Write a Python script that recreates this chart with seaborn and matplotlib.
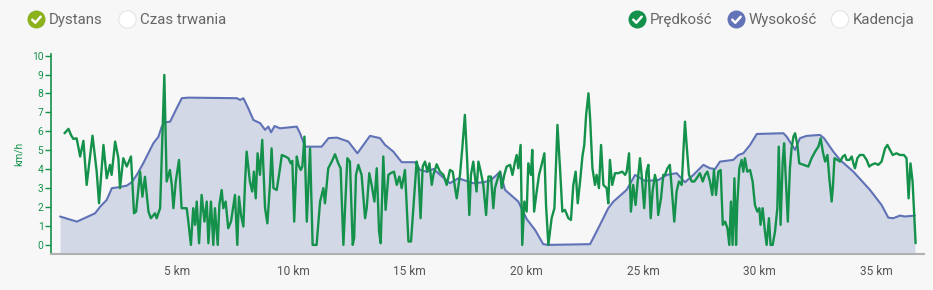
import matplotlib
matplotlib.use("Agg")
import matplotlib.pyplot as plt
from matplotlib.patches import Circle
import seaborn as sns

# ---------------- data ----------------
speed_km = [0.19, 0.36, 0.47, 0.57, 0.71, 0.86, 1.0, 1.14, 1.39, 1.57, 1.67, 1.86, 2.0, 2.14, 2.21, 2.36, 2.5, 2.57,
            2.71, 2.86, 3.04, 3.17, 3.26, 3.43, 3.53, 3.64, 3.79, 3.89, 4.07, 4.14, 4.29, 4.36, 4.47, 4.57, 4.71, 4.79,
            4.86, 4.96, 5.1, 5.21, 5.43, 5.5, 5.61, 5.71, 5.79, 5.86, 5.96, 6.07, 6.19, 6.29, 6.36, 6.47, 6.57, 6.64,
            6.76, 6.83, 6.93, 7.0, 7.1, 7.21, 7.33, 7.5, 7.6, 7.67, 7.76, 7.86, 7.93, 8.0, 8.14, 8.24, 8.31, 8.39,
            8.47, 8.57, 8.67, 8.79, 8.89, 9.0, 9.07, 9.15, 9.29, 9.41, 9.51, 9.66, 9.79, 9.89, 9.96, 10.04, 10.15,
            10.22, 10.32, 10.39, 10.48, 10.58, 10.72, 10.83, 11.0, 11.15, 11.29, 11.36, 11.5, 11.65, 11.79, 11.93,
            12.03, 12.15, 12.32, 12.43, 12.55, 12.61, 12.69, 12.79, 12.93, 13.08, 13.15, 13.26, 13.36, 13.48, 13.58,
            13.68, 13.75, 13.86, 13.96, 14.08, 14.18, 14.32, 14.44, 14.55, 14.65, 14.79, 14.94, 15.05, 15.15, 15.29,
            15.36, 15.46, 15.55, 15.65, 15.75, 15.84, 15.94, 16.01, 16.15, 16.29, 16.44, 16.58, 16.72, 16.84, 16.93,
            17.01, 17.15, 17.26, 17.36, 17.46, 17.55, 17.62, 17.72, 17.86, 17.94, 18.04, 18.15, 18.27, 18.37, 18.48,
            18.58, 18.65, 18.77, 18.87, 18.94, 19.05, 19.15, 19.3, 19.4, 19.51, 19.58, 19.65, 19.75, 19.82, 19.91,
            20.01, 20.08, 20.19, 20.25, 20.33, 20.44, 20.54, 20.65, 20.77, 20.84, 20.94, 21.08, 21.2, 21.33, 21.44,
            21.54, 21.65, 21.8, 21.91, 22.01, 22.11, 22.2, 22.3, 22.4, 22.48, 22.56, 22.66, 22.73, 22.83, 22.94,
            23.01, 23.11, 23.2, 23.3, 23.44, 23.51, 23.58, 23.68, 23.8, 23.94, 24.11, 24.23, 24.3, 24.4, 24.48,
            24.58, 24.68, 24.77, 24.87, 24.94, 25.05, 25.15, 25.23, 25.33, 25.41, 25.51, 25.58, 25.65, 25.77, 25.87,
            25.94, 26.05, 26.15, 26.23, 26.34, 26.44, 26.54, 26.66, 26.73, 26.8, 26.87, 26.97, 27.09, 27.2, 27.3,
            27.44, 27.56, 27.66, 27.76, 27.87, 27.97, 28.04, 28.13, 28.23, 28.33, 28.42, 28.52, 28.62, 28.7, 28.77,
            28.84, 28.92, 28.99, 29.04, 29.13, 29.23, 29.3, 29.37, 29.47, 29.59, 29.7, 29.8, 29.9, 29.99, 30.04,
            30.13, 30.23, 30.3, 30.4, 30.47, 30.56, 30.66, 30.76, 30.82, 30.9, 30.99, 31.05, 31.13, 31.21, 31.3,
            31.37, 31.45, 31.52, 31.62, 31.7, 31.88, 32.09, 32.23, 32.38, 32.52, 32.62, 32.71, 32.81, 32.91, 32.99,
            33.09, 33.14, 33.21, 33.34, 33.45, 33.57, 33.66, 33.73, 33.85, 33.95, 34.02, 34.09, 34.19, 34.3, 34.45,
            34.59, 34.7, 34.8, 34.95, 35.09, 35.23, 35.38, 35.48, 35.59, 35.71, 35.87, 36.02, 36.19, 36.3, 36.39,
            36.47, 36.56, 36.63, 36.69]
speed_kmh = [5.9, 6.13, 5.8, 5.6, 5.63, 4.67, 5.5, 3.17, 5.77, 3.87, 2.2, 5.28, 3.52, 4.23, 3.7, 5.46, 4.58, 3.0,
             4.58, 4.14, 4.67, 1.67, 1.76, 3.87, 2.55, 3.6, 1.76, 1.41, 1.67, 1.41, 1.94, 4.75, 8.98, 3.35, 3.96, 3.17,
             1.94, 3.35, 4.49, 1.94, 1.94, 1.23, 0.0, 1.94, 1.06, 2.29, 0.09, 2.64, 1.23, 2.29, 0.09, 2.29, 0.0, 1.94,
             0.0, 2.11, 2.9, 1.94, 2.29, 0.88, 1.23, 2.64, 0.0, 2.55, 1.58, 0.97, 3.26, 4.93, 3.35, 2.82, 3.87, 2.46,
             4.84, 3.7, 5.55, 1.94, 1.14, 3.17, 5.1, 3.0, 2.9, 3.87, 4.75, 4.67, 4.58, 4.31, 4.44, 1.23, 4.67,
             4.23, 3.96, 4.14, 5.72, 1.23, 5.1, 0.0, 0.0, 2.29, 3.0, 2.2, 4.05, 4.4, 4.79, 4.31,
             4.05, 0.0, 4.58, 4.4, 0.0, 0.35, 3.7, 4.23, 3.7, 1.41, 1.94, 3.79, 3.17, 2.29, 4.05,
             0.7, 0.09, 4.67, 1.85, 3.7, 3.79, 3.87, 3.17, 3.61, 3.0, 3.96, 0.18, 0.18, 1.94, 4.4,
             4.05, 1.41, 4.14, 4.4, 3.87, 4.31, 3.17, 3.7, 4.26, 3.87, 3.7, 3.17, 3.96, 3.87, 3.08,
             2.46, 3.7, 5.28, 6.87, 4.4, 1.58, 3.7, 4.4, 2.82, 4.4, 3.87, 3.17, 1.58, 3.61, 3.61,
             1.94, 3.0, 3.52, 3.87, 3.0, 3.7, 4.14, 4.23, 3.7, 4.4, 4.75, 4.05, 5.28, 0.0, 2.29,
             1.76, 4.31, 3.7, 5.02, 1.76, 2.82, 3.7, 4.23, 4.84, 2.11, 0.0, 1.41, 1.94, 6.34, 4.05,
             1.76, 1.85, 1.41, 1.32, 3.17, 3.87, 2.2, 3.35, 4.67, 5.28, 6.87, 8.01, 6.69, 4.05, 3.17,
             3.7, 3.0, 5.28, 3.17, 3.0, 2.2, 4.49, 3.17, 3.79, 3.79, 3.87, 3.7, 3.87, 4.84, 1.76,
             3.17, 2.11, 3.35, 4.58, 3.7, 1.94, 3.87, 4.23, 1.41, 2.82, 3.7, 3.35, 1.58, 2.46, 3.7,
             3.7, 4.05, 4.23, 3.0, 1.23, 2.82, 3.35, 3.17, 4.93, 6.51, 5.28, 3.7, 3.35, 3.35, 3.52,
             3.79, 3.35, 3.7, 3.87, 3.35, 2.64, 3.96, 2.64, 3.87, 3.96, 1.06, 1.23, 0.88, 0.0, 2.29,
             0.0, 3.52, 0.0, 2.11, 4.05, 4.49, 3.87, 4.58, 3.87, 3.96, 3.35, 2.11, 1.76, 1.94, 1.06,
             1.94, 0.7, 0.0, 1.41, 0.0, 0.0, 0.7, 1.94, 5.19, 1.06, 4.4, 5.37, 3.35, 1.23, 4.05,
             5.1, 5.72, 5.9, 5.28, 4.31, 4.23, 4.14, 4.58, 4.93, 5.19, 5.63, 4.93, 4.4, 4.75, 3.52,
             2.29, 3.0, 4.58, 4.49, 4.4, 4.67, 4.75, 4.49, 4.49, 4.67, 4.31, 4.05, 4.58, 4.75, 4.75,
             4.49, 4.14, 4.23, 4.31, 4.23, 4.4, 5.1, 5.28, 5.02, 4.75, 4.84, 4.75, 4.75, 4.58, 2.46,
             4.31, 3.35, 1.58, 0.09]

# elevation profile (hidden secondary axis, relative units)
elev_km = [0.0, 0.72, 1.5, 1.72, 2.0, 2.22, 2.43, 2.86, 3.07, 3.29, 3.57, 4.0, 4.22, 4.36, 4.5, 4.72, 5.0, 5.22,
           5.5, 7.58, 7.72, 7.86, 8.07, 8.29, 8.58, 8.79, 8.93, 9.05, 9.2, 9.43, 10.15, 10.29, 10.51, 11.22, 11.51,
           11.87, 12.36, 12.75, 13.01, 13.29, 13.72, 13.94, 14.29, 14.65, 15.22, 15.44, 15.72, 16.01, 16.3, 16.72,
           17.08, 17.72, 18.15, 18.44, 18.65, 18.87, 19.08, 19.65, 20.01, 20.37, 20.72, 20.94, 22.73, 23.08, 23.51,
           23.73, 24.3, 24.66, 25.08, 25.66, 26.02, 26.44, 26.8, 27.16, 27.59, 27.87, 28.09, 28.3, 28.87, 29.09,
           29.3, 29.59, 29.88, 31.02, 31.16, 31.52, 31.73, 32.02, 32.59, 32.76, 33.16, 33.45, 34.02, 34.73, 35.23,
           35.52, 35.73, 36.02, 36.23, 36.66]
elevation = [1.5, 1.23, 1.67, 2.02, 2.38, 3.0, 3.03, 3.13, 3.31, 3.7, 4.32, 5.37, 5.72, 6.25, 6.48, 6.51, 7.22, 7.75,
             7.78, 7.75, 7.66, 7.75, 7.22, 6.6, 6.43, 6.08, 6.25, 5.95, 6.28, 6.16, 6.25, 5.9, 5.19, 5.19, 5.64,
             5.67, 5.46, 4.84, 5.28, 5.76, 5.64, 5.28, 4.93, 4.37, 4.37, 3.96, 3.87, 4.01, 3.7, 3.26,
             3.52, 3.26, 3.31, 3.4, 3.61, 3.87, 2.91, 2.29, 1.37, 0.79, 0.04, 0.0, 0.04, 0.88, 1.94,
             2.29, 2.91, 3.7, 3.38, 3.43, 3.7, 3.79, 3.31, 3.7, 4.23, 4.05, 4.01, 4.4, 4.49, 4.75,
             4.84, 5.28, 5.86, 5.9, 5.72, 5.02, 5.64, 5.76, 5.81, 5.64, 4.93, 4.49, 3.87, 2.91, 2.11,
             1.44, 1.41, 1.55, 1.5, 1.55]

y_ticks = list(range(0, 11))
x_ticks = [5, 10, 15, 20, 25, 30, 35]
x_tick_labels = ["5 km", "10 km", "15 km", "20 km", "25 km", "30 km", "35 km"]
toggles_left = ["Dystans", "Czas trwania"]
toggles_right = ["Prędkość", "Wysokość", "Kadencja"]

# ---------------- style ----------------
BG = "#f7f7f7"
GREEN = "#14914a"
BLUE = "#5f72b6"
FILL = "#d3d8e7"
TEXT = "#666666"

sns.set_theme(style="white")
plt.rcParams["font.family"] = ["Roboto", "DejaVu Sans"]

W, H = 933, 290
fig = plt.figure(figsize=(W / 100, H / 100), dpi=100, facecolor=BG)

left_px, right_px, bottom_px = 51, 924, 254
ymin, ymax = -0.48, 10.1
px_per_unit = 18.93
top_px = bottom_px - (ymax - ymin) * px_per_unit
ax = fig.add_axes([left_px / W, (H - bottom_px) / H, (right_px - left_px) / W, (bottom_px - top_px) / H])
ax_el = ax.twinx()
ax.set_zorder(ax_el.get_zorder() + 1)
ax.patch.set_visible(False)
ax_el.set_facecolor(BG)

# elevation
ax_el.fill_between(elev_km, elevation, ymin, color=FILL, lw=0, zorder=1)
sns.lineplot(x=elev_km, y=elevation, ax=ax_el, color=BLUE, linewidth=1.5, zorder=2,
             solid_joinstyle="round")
ax_el.set_ylim(ymin, ymax)
ax_el.set_yticks([])
ax_el.set_ylabel("")
for s in ax_el.spines.values():
    s.set_visible(False)

# speed
sns.lineplot(x=speed_km, y=speed_kmh, ax=ax, color=GREEN, linewidth=1.7, zorder=3,
             solid_joinstyle="round", solid_capstyle="round")

xmin, xmax = -0.39, 37.05
ax.set_xlim(xmin, xmax)
ax_el.set_xlim(xmin, xmax)
ax.set_ylim(ymin, ymax)

ax.set_yticks(y_ticks)
ax.set_yticklabels([str(v) for v in y_ticks])
ax.tick_params(axis="y", colors=GREEN, labelcolor=GREEN, length=4, width=1, pad=1.5,
               labelsize=7.4, left=True, direction="out")
ax.set_xticks(x_ticks)
ax.set_xticklabels(x_tick_labels)
ax.tick_params(axis="x", length=0, pad=8, labelsize=8.6, labelcolor="#555555")
ax.set_xlabel("")
ax.set_ylabel("km/h", color=GREEN, fontsize=7.4, labelpad=6)
ax.grid(False)

for name, s in ax.spines.items():
    s.set_visible(False)
ax.spines["left"].set_visible(True)
ax.spines["left"].set_color(GREEN)
ax.spines["left"].set_linewidth(1.2)
ax.spines["bottom"].set_visible(True)
ax.spines["bottom"].set_color("#b0b0b0")
ax.spines["bottom"].set_linewidth(1.5)

# ---------------- top toggles (overlay in pixel coordinates) ----------------
ov = fig.add_axes([0, 0, 1, 1], facecolor="none")
ov.set_xlim(0, W)
ov.set_ylim(H, 0)
ov.axis("off")

def toggle(cx, cy, label, color, checked):
    if checked:
        ov.add_patch(Circle((cx, cy), 9, facecolor=color, edgecolor="none"))
        ov.plot([cx - 4.2, cx - 1.2, cx + 4.2], [cy + 0.2, cy + 3.2, cy - 2.8],
                color="white", lw=1.8, solid_capstyle="round", solid_joinstyle="round")
    else:
        ov.add_patch(Circle((cx, cy), 8.7, facecolor="white", edgecolor="#e4e4e4", lw=0.8))
    ov.text(cx + 12.5, cy + 0.5, label, fontsize=10.8, color=TEXT, va="center", ha="left")

toggle(36.5, 19.5, toggles_left[0], "#8bb11d", True)
toggle(127.5, 19.5, toggles_left[1], None, False)
toggle(637.5, 19.5, toggles_right[0], GREEN, True)
toggle(736.5, 19.5, toggles_right[1], "#6274b7", True)
toggle(840.0, 19.5, toggles_right[2], None, False)

fig.savefig("out.png", dpi=100, facecolor=BG)
